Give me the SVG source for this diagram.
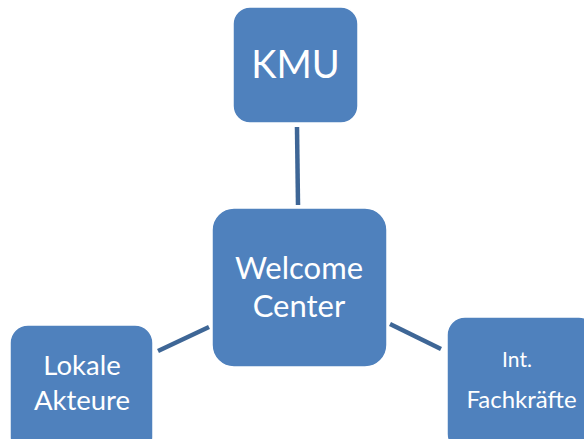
<svg xmlns="http://www.w3.org/2000/svg" width="584" height="439" viewBox="0 0 584 439">
<style>
.box{fill:#4F81BD;stroke:#FFFFFF;stroke-width:1.5}
.lbl{fill:#FFFFFF;font-family:Lato,"Open Sans","Liberation Sans",sans-serif;text-anchor:middle}
.con{stroke:#3E6696;stroke-width:4.5;fill:none}
</style>
<rect width="584" height="439" fill="#FFFFFF"/>
<g id="connectors">
<line class="con" x1="297" y1="127" x2="298" y2="205"/>
<line class="con" x1="158" y1="351" x2="209" y2="327"/>
<line class="con" x1="390" y1="324" x2="441" y2="349"/>
</g>
<g id="kmu">
<rect class="box" x="233" y="7" width="125" height="116" rx="17"/>
<text class="lbl" x="295.5" y="78" font-size="38">KMU</text>
</g>
<g id="welcome">
<rect class="box" x="212" y="208" width="175" height="159" rx="22"/>
<text class="lbl" x="299" y="279" font-size="31">Welcome</text>
<text class="lbl" x="299" y="317" font-size="31">Center</text>
</g>
<g id="lokale">
<rect class="box" x="10" y="325" width="143" height="130" rx="18"/>
<text class="lbl" x="82" y="375" font-size="27.5">Lokale</text>
<text class="lbl" x="82" y="410" font-size="27.5">Akteure</text>
</g>
<g id="fachkraefte">
<rect class="box" x="447" y="317" width="150" height="135" rx="18"/>
<text class="lbl" x="517" y="367" font-size="21">Int.</text>
<text class="lbl" x="521.5" y="408" font-size="24">Fachkräfte</text>
</g>
</svg>
